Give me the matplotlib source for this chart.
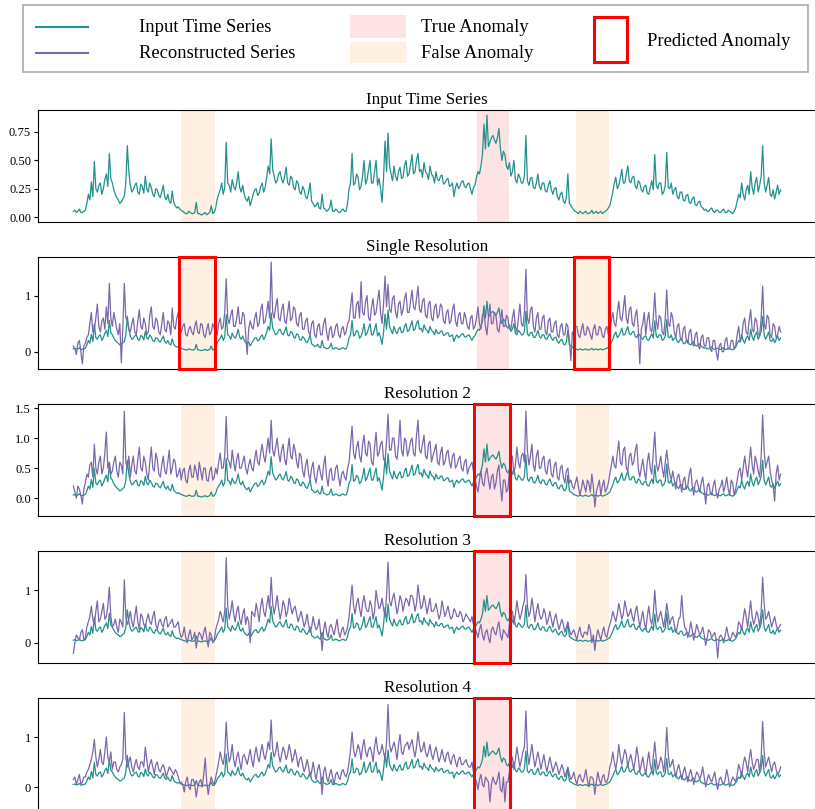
import numpy as np
import matplotlib.pyplot as plt
from matplotlib.patches import Rectangle
from matplotlib.lines import Line2D
import matplotlib.transforms as mtransforms

plt.rcParams['font.family'] = ['Liberation Serif', 'DejaVu Serif']

# ---------------------------------------------------------
# values: one "main" sample every ~3 px,
# plus the sample that sits between each pair of them
# ---------------------------------------------------------
input_main = [
    0.05, 0.04, 0.07, 0.04, 0.06, 0.2, 0.31, 0.49, 0.22, 0.3,
    0.25, 0.38, 0.56, 0.3, 0.2, 0.15, 0.13, 0.18, 0.63, 0.28,
    0.24, 0.3, 0.2, 0.27, 0.36, 0.22, 0.26, 0.18, 0.24, 0.17,
    0.28, 0.15, 0.14, 0.23, 0.1, 0.09, 0.06, 0.04, 0.03, 0.04,
    0.03, 0.13, 0.03, 0.02, 0.04, 0.03, 0.1, 0.04, 0.16, 0.24,
    0.2, 0.66, 0.28, 0.33, 0.24, 0.4, 0.22, 0.2, 0.14, 0.1,
    0.2, 0.25, 0.21, 0.3, 0.26, 0.45, 0.69, 0.36, 0.32, 0.4,
    0.3, 0.44, 0.28, 0.34, 0.24, 0.3, 0.2, 0.24, 0.16, 0.3,
    0.12, 0.1, 0.08, 0.2, 0.07, 0.06, 0.15, 0.05, 0.06, 0.04,
    0.07, 0.05, 0.25, 0.56, 0.3, 0.35, 0.27, 0.5, 0.33, 0.5,
    0.3, 0.5, 0.34, 0.13, 0.67, 0.74, 0.38, 0.45, 0.32, 0.44,
    0.35, 0.5, 0.38, 0.55, 0.4, 0.56, 0.42, 0.48, 0.38, 0.45,
    0.36, 0.4, 0.32, 0.37, 0.3, 0.34, 0.28, 0.18, 0.3, 0.27,
    0.32, 0.26, 0.3, 0.2, 0.28, 0.4, 0.45, 0.82, 0.9, 0.66,
    0.72, 0.65, 0.78, 0.5, 0.55, 0.42, 0.36, 0.5, 0.3, 0.35,
    0.3, 0.72, 0.28, 0.35, 0.25, 0.38, 0.24, 0.3, 0.22, 0.32,
    0.2, 0.26, 0.15, 0.22, 0.12, 0.38, 0.1, 0.06, 0.04, 0.05,
    0.03, 0.05, 0.03, 0.06, 0.04, 0.03, 0.05, 0.04, 0.06, 0.1,
    0.22, 0.35, 0.28, 0.42, 0.3, 0.45, 0.3, 0.36, 0.25, 0.3,
    0.22, 0.28, 0.2, 0.32, 0.55, 0.25, 0.3, 0.22, 0.57, 0.25,
    0.2, 0.26, 0.16, 0.22, 0.14, 0.2, 0.12, 0.18, 0.1, 0.14,
    0.08, 0.07, 0.05, 0.08, 0.04, 0.06, 0.04, 0.07, 0.04, 0.05,
    0.03, 0.08, 0.2, 0.3, 0.15, 0.28, 0.4, 0.2, 0.35, 0.28,
    0.63, 0.22, 0.35, 0.18, 0.16, 0.28, 0.24,
]
input_mid = [
    0.06, 0.05, 0.04, 0.05, 0.12, 0.15, 0.18, 0.25, 0.28, 0.2,
    0.33, 0.27, 0.34, 0.24, 0.17, 0.12, 0.16, 0.3, 0.4, 0.22,
    0.28, 0.22, 0.29, 0.21, 0.25, 0.3, 0.2, 0.25, 0.19, 0.22,
    0.18, 0.2, 0.12, 0.13, 0.08, 0.07, 0.05, 0.03, 0.05, 0.03,
    0.04, 0.03, 0.02, 0.03, 0.02, 0.04, 0.03, 0.08, 0.2, 0.3,
    0.26, 0.3, 0.22, 0.27, 0.3, 0.26, 0.28, 0.16, 0.18, 0.15,
    0.24, 0.19, 0.27, 0.22, 0.35, 0.38, 0.42, 0.3, 0.38, 0.33,
    0.36, 0.3, 0.36, 0.26, 0.32, 0.22, 0.27, 0.18, 0.22, 0.14,
    0.09, 0.13, 0.07, 0.08, 0.05, 0.08, 0.05, 0.07, 0.04, 0.06,
    0.05, 0.12, 0.3, 0.28, 0.38, 0.24, 0.36, 0.29, 0.42, 0.3,
    0.4, 0.28, 0.25, 0.35, 0.4, 0.45, 0.32, 0.36, 0.4, 0.34,
    0.45, 0.36, 0.46, 0.38, 0.5, 0.4, 0.35, 0.4, 0.33, 0.38,
    0.3, 0.33, 0.36, 0.29, 0.33, 0.27, 0.3, 0.26, 0.25, 0.31,
    0.27, 0.29, 0.25, 0.26, 0.35, 0.38, 0.55, 0.6, 0.62, 0.7,
    0.68, 0.7, 0.6, 0.58, 0.45, 0.48, 0.4, 0.33, 0.38, 0.3,
    0.36, 0.32, 0.34, 0.26, 0.3, 0.27, 0.3, 0.23, 0.28, 0.24,
    0.25, 0.18, 0.2, 0.14, 0.17, 0.12, 0.08, 0.05, 0.03, 0.04,
    0.04, 0.03, 0.04, 0.03, 0.05, 0.04, 0.03, 0.05, 0.08, 0.16,
    0.3, 0.25, 0.34, 0.3, 0.38, 0.32, 0.35, 0.27, 0.32, 0.24,
    0.27, 0.21, 0.26, 0.24, 0.28, 0.3, 0.2, 0.28, 0.26, 0.3,
    0.24, 0.18, 0.22, 0.15, 0.19, 0.13, 0.16, 0.11, 0.13, 0.09,
    0.06, 0.05, 0.07, 0.05, 0.06, 0.04, 0.06, 0.04, 0.06, 0.04,
    0.05, 0.14, 0.17, 0.2, 0.24, 0.2, 0.26, 0.3, 0.22, 0.36,
    0.3, 0.28, 0.2, 0.24, 0.22, 0.2,
]

single_main = [
    0.1, -0.05, 0.2, -0.22, 0.15, 0.3, 0.7, 0.4, 0.85, 0.35,
    0.6, 0.8, 1.22, 0.45, 0.55, 0.3, -0.2, 1.22, 0.55, 0.35,
    0.6, 0.3, 0.75, 0.4, 0.5, 0.35, 0.8, 0.4, 0.55, 0.3,
    0.7, 0.35, 0.5, 0.78, 0.4, 0.7, 0.35, 0.5, 0.28, 0.45,
    0.3, 0.55, 0.32, 0.48, 0.25, 0.5, 0.35, 0.42, 0.3, 0.6,
    0.45, 1.3, 0.5, 0.75, 0.45, 0.8, 0.5, 0.65, -0.05, 0.55,
    0.4, 0.7, 0.5, 0.85, 0.55, 0.9, 1.6, 0.6, 0.95, 0.55,
    0.85, 0.5, 0.9, 0.6, 0.75, 0.45, 0.7, 0.4, 0.6, 0.3,
    0.55, 0.25, 0.5, 0.3, 0.6, 0.2, 0.45, 0.3, 0.5, 0.25,
    0.45, 0.35, 0.55, 1.05, 0.6, 0.9, 1.25, 0.65, 1.0, 0.55,
    0.95, 0.7, 1.1, 0.5, 1.35, 1.2, 0.7, 1.0, 0.6, 0.9,
    0.75, 1.05, 0.7, 1.1, 0.75, 1.17, 0.7, 0.95, 0.6, 0.9,
    0.55, 0.85, 0.65, 0.8, 0.5, 0.75, 0.55, 0.85, 0.45, 0.7,
    0.5, 0.6, 0.4, 0.65, 0.45, 0.8, 0.4, 0.7, 0.3, 0.85,
    0.5, 0.65, 0.35, 0.75, 0.45, 0.6, 0.4, 0.75, 0.35, 0.85,
    0.45, 1.47, 0.5, 0.8, 0.35, 0.7, 0.4, 0.65, 0.3, 0.6,
    0.35, 0.55, 0.25, 0.5, 0.3, 0.45, -0.16, 0.3, 0.45, 0.25,
    0.5, 0.3, 0.4, 0.22, 0.48, 0.3, 0.42, 0.25, 0.45, 0.35,
    0.7, 0.45, 0.9, 0.55, 1.0, 0.5, 0.8, 0.45, 0.75, -0.22,
    0.5, 0.3, 0.7, 0.35, 1.05, 0.4, 0.6, 0.3, 1.1, 0.45,
    0.6, 0.25, 0.5, 0.2, 0.45, 0.15, 0.4, 0.1, 0.35, 0.05,
    0.3, 0.1, 0.25, 0.0, 0.2, -0.15, 0.15, 0.0, 0.25, 0.05,
    0.2, 0.1, 0.45, 0.25, 0.6, 0.3, 0.75, 0.35, 0.55, 0.3,
    1.17, 0.4, 0.6, 0.25, 0.45, 0.3, 0.35,
]
single_mid = [
    0.05, 0.15, 0.0, 0.1, 0.25, 0.5, 0.35, 0.6, 0.45, 0.55,
    0.4, 0.5, 0.6, 0.7, 0.4, 0.5, 0.4, 0.6, 0.4, 0.5,
    0.35, 0.55, 0.45, 0.6, 0.3, 0.65, 0.45, 0.6, 0.35, 0.5,
    0.4, 0.55, 0.3, 0.45, 0.6, 0.45, 0.45, 0.3, 0.4, 0.35,
    0.45, 0.35, 0.5, 0.3, 0.4, 0.3, 0.5, 0.28, 0.5, 0.4,
    0.7, 0.6, 0.65, 0.45, 0.6, 0.5, 0.7, 0.3, 0.4, 0.45,
    0.6, 0.45, 0.75, 0.5, 0.7, 0.6, 0.7, 0.8, 0.6, 0.75,
    0.55, 0.7, 0.55, 0.8, 0.5, 0.65, 0.4, 0.55, 0.35, 0.5,
    0.3, 0.45, 0.3, 0.5, 0.35, 0.4, 0.25, 0.45, 0.3, 0.4,
    0.3, 0.5, 0.8, 0.6, 0.85, 0.6, 0.7, 0.9, 0.6, 0.8,
    0.65, 0.9, 0.7, 0.85, 0.8, 0.75, 0.95, 0.7, 0.85, 0.65,
    0.95, 0.7, 0.9, 0.8, 0.95, 0.75, 0.9, 0.65, 0.85, 0.6,
    0.8, 0.6, 0.85, 0.55, 0.7, 0.5, 0.75, 0.55, 0.65, 0.5,
    0.7, 0.45, 0.6, 0.4, 0.6, 0.5, 0.65, 0.45, 0.6, 0.5,
    0.7, 0.4, 0.55, 0.45, 0.65, 0.4, 0.6, 0.45, 0.6, 0.5,
    0.7, 0.6, 0.75, 0.45, 0.6, 0.4, 0.6, 0.35, 0.55, 0.35,
    0.5, 0.3, 0.45, 0.3, 0.5, 0.2, 0.35, 0.45, 0.3, 0.4,
    0.3, 0.45, 0.3, 0.4, 0.3, 0.45, 0.28, 0.4, 0.3, 0.55,
    0.5, 0.7, 0.6, 0.75, 0.6, 0.75, 0.5, 0.65, 0.4, 0.4,
    0.7, 0.55, 0.4, 0.6, 0.55, 0.65, 0.35, 0.6, 0.5, 0.7,
    0.35, 0.45, 0.25, 0.4, 0.2, 0.35, 0.15, 0.3, 0.1, 0.25,
    0.1, 0.25, 0.05, 0.2, 0.0, 0.1, 0.0, 0.2, 0.05, 0.2,
    0.05, 0.3, 0.2, 0.5, 0.35, 0.55, 0.4, 0.6, 0.3, 0.6,
    0.5, 0.65, 0.3, 0.5, 0.25, 0.45,
]

res2_main = [
    0.2, 0.0, 0.15, -0.1, 0.25, 0.35, 0.6, 0.9, 0.4, 0.7,
    0.5, 1.1, 0.6, 0.45, 0.7, 0.35, 0.55, 1.45, 0.5, 0.35,
    0.7, 0.4, 0.85, 0.45, 0.6, 0.3, 0.85, 0.45, 0.65, 0.35,
    0.7, 0.4, 0.8, 0.5, 0.6, 0.4, 0.3, 0.5, 0.25, 0.55,
    0.35, 0.45, 0.6, 0.3, 0.5, 0.28, 0.52, 0.35, 0.4, 0.75,
    0.5, 1.36, 0.6, 0.8, 0.45, 0.75, 0.5, 0.7, 0.4, 0.65,
    0.45, 0.8, 0.55, 0.9, 0.6, 1.0, 1.3, 0.7, 1.0, 0.6,
    0.9, 0.55, 1.0, 0.65, 0.8, 0.5, 0.7, 0.35, 0.65, 0.3,
    0.6, 0.25, 0.55, 0.3, 0.7, 0.2, 0.5, 0.3, 0.55, 0.2,
    0.45, 0.3, 0.6, 1.2, 0.65, 0.95, 0.6, 1.05, 0.7, 0.9,
    0.55, 1.1, 0.75, 0.95, 0.6, 1.4, 0.8, 1.0, 0.65, 1.3,
    0.7, 0.95, 0.8, 1.0, 0.7, 1.3, 0.75, 1.05, 0.65, 0.95,
    0.7, 0.9, 0.55, 0.85, 0.6, 0.8, 0.5, 0.75, 0.55, 0.7,
    0.45, 0.65, 0.5, 0.6, 0.35, 0.1, 0.45, 0.2, 0.5, 0.15,
    0.4, 0.25, 0.55, -0.05, 0.3, 0.15, 0.6, 0.4, 0.85, 0.5,
    0.75, 1.45, 0.55, 0.9, 0.45, 0.8, 0.5, 0.7, 0.4, 0.65,
    0.35, 0.6, 0.3, 0.55, 0.25, 0.5, 0.3, 0.15, 0.35, 0.05,
    0.3, 0.1, 0.25, 0.4, -0.15, 0.2, 0.05, 0.3, 0.15, 0.4,
    0.7, 0.5, 0.95, 0.55, 0.85, 0.45, 0.75, 0.6, 0.9, 0.35,
    0.65, 0.3, 0.75, 0.4, 1.1, 0.45, 0.7, 0.35, 0.8, 0.4,
    0.45, 0.15, 0.4, 0.1, 0.35, 0.2, 0.5, 0.05, 0.3, 0.1,
    0.35, -0.1, 0.25, 0.05, 0.3, 0.0, 0.2, 0.1, 0.35, 0.05,
    0.25, 0.15, 0.45, 0.3, 0.7, 0.35, 0.85, 0.4, 0.6, 0.35,
    1.39, 0.5, 0.7, 0.3, -0.05, 0.55, 0.4,
]
res2_mid = [
    0.1, 0.2, 0.05, 0.15, 0.4, 0.55, 0.35, 0.5, 0.6, 0.4,
    0.75, 0.5, 0.4, 0.6, 0.45, 0.6, 0.4, 0.6, 0.7, 0.55,
    0.45, 0.65, 0.5, 0.7, 0.4, 0.6, 0.5, 0.75, 0.4, 0.55,
    0.45, 0.6, 0.4, 0.65, 0.35, 0.5, 0.45, 0.3, 0.45, 0.35,
    0.55, 0.3, 0.45, 0.5, 0.3, 0.45, 0.3, 0.5, 0.6, 0.5,
    0.7, 0.65, 0.5, 0.6, 0.65, 0.5, 0.6, 0.5, 0.55, 0.5,
    0.65, 0.6, 0.75, 0.7, 0.8, 0.75, 0.8, 0.85, 0.75, 0.8,
    0.65, 0.8, 0.7, 0.9, 0.6, 0.75, 0.45, 0.55, 0.4, 0.5,
    0.35, 0.45, 0.4, 0.55, 0.35, 0.45, 0.3, 0.5, 0.35, 0.4,
    0.35, 0.5, 0.9, 0.75, 0.85, 0.7, 0.9, 0.75, 0.95, 0.6,
    0.85, 0.7, 0.9, 0.65, 0.95, 0.8, 1.0, 0.7, 0.9, 0.8,
    1.0, 0.7, 0.95, 0.75, 1.05, 0.8, 0.9, 0.7, 0.9, 0.6,
    0.8, 0.6, 0.75, 0.55, 0.75, 0.6, 0.7, 0.5, 0.65, 0.5,
    0.6, 0.4, 0.55, 0.45, 0.2, 0.3, 0.25, 0.4, 0.3, 0.35,
    0.15, 0.45, 0.2, 0.3, 0.1, 0.45, 0.7, 0.55, 0.6, 0.7,
    0.6, 0.8, 0.7, 0.55, 0.7, 0.5, 0.65, 0.45, 0.6, 0.4,
    0.55, 0.35, 0.5, 0.35, 0.45, 0.25, 0.2, 0.25, 0.2, 0.15,
    0.2, 0.3, 0.1, 0.2, 0.1, 0.3, 0.2, 0.1, 0.25, 0.55,
    0.55, 0.75, 0.6, 0.8, 0.5, 0.7, 0.55, 0.8, 0.5, 0.5,
    0.45, 0.6, 0.5, 0.75, 0.6, 0.55, 0.5, 0.6, 0.55, 0.3,
    0.3, 0.35, 0.25, 0.3, 0.15, 0.4, 0.2, 0.25, 0.2, 0.25,
    0.15, 0.2, 0.1, 0.2, 0.1, 0.15, 0.3, 0.2, 0.15, 0.3,
    0.05, 0.3, 0.5, 0.5, 0.5, 0.6, 0.55, 0.7, 0.45, 0.7,
    0.8, 0.6, 0.45, 0.2, 0.4, 0.3,
]

res3_main = [
    -0.2, 0.15, 0.05, 0.25, 0.1, 0.4, 0.7, 0.35, 0.8, 0.45,
    0.75, 0.5, 1.06, 0.3, 0.45, 0.2, 0.4, 1.2, 0.35, 0.6,
    0.3, 0.7, 0.25, 0.5, 0.3, 0.55, 0.35, 0.6, 0.25, 0.45,
    0.3, 0.5, 0.35, 0.45, 0.3, 0.4, 0.1, 0.3, 0.0, 0.25,
    0.1, -0.1, 0.2, 0.05, 0.3, -0.08, 0.15, 0.05, 0.35, 0.6,
    0.4, 1.62, 0.45, 0.8, 0.4, 0.7, 0.35, 0.65, 0.5, 0.0,
    0.55, 0.75, 0.4, 0.85, 0.5, 0.9, 1.25, 0.55, 0.9, 0.45,
    0.8, 0.5, 0.85, 0.55, 0.7, 0.4, 0.6, 0.3, 0.55, 0.2,
    0.5, 0.25, 0.45, -0.15, 0.4, 0.1, 0.35, 0.15, 0.45, 0.1,
    0.3, 0.2, 0.5, 1.1, 0.55, 0.85, 0.5, 0.9, 0.6, 0.8,
    0.45, 1.0, 0.65, 0.85, 0.5, 1.54, 0.7, 0.95, 0.55, 0.9,
    0.6, 0.85, 0.7, 0.9, 0.6, 1.1, 0.65, 0.9, 0.55, 0.85,
    0.6, 0.75, 0.45, 0.8, 0.5, 0.7, 0.45, 0.65, 0.5, 0.6,
    0.4, 0.55, 0.45, 0.5, 0.3, 0.1, 0.35, 0.05, 0.25, 0.0,
    0.3, 0.15, 0.4, 0.05, 0.2, 0.1, 0.55, 0.35, 0.8, 0.45,
    0.7, 1.3, 0.5, 0.85, 0.4, 0.75, 0.45, 0.65, 0.35, 0.6,
    0.3, 0.55, 0.25, 0.45, 0.2, 0.4, 0.15, 0.25, 0.05, 0.3,
    0.1, 0.2, 0.35, 0.0, -0.15, 0.25, 0.05, 0.3, 0.1, 0.35,
    0.6, 0.4, 0.75, 0.45, 0.8, 0.5, 0.65, 0.4, 0.7, 0.3,
    0.6, 0.25, 0.7, 0.35, 1.0, 0.4, 0.6, 0.3, 0.75, 0.35,
    0.5, 0.2, 0.45, 0.9, 0.3, 0.1, 0.4, 0.05, 0.35, 0.15,
    0.3, -0.05, 0.25, 0.1, 0.2, -0.29, 0.15, 0.0, 0.3, 0.05,
    0.2, 0.1, 0.4, 0.25, 0.65, 0.3, 0.8, 0.35, 0.6, 0.3,
    1.25, 0.45, 0.6, 0.3, 0.5, 0.25, 0.35,
]
res3_mid = [
    0.0, 0.1, 0.2, 0.05, 0.3, 0.5, 0.45, 0.6, 0.4, 0.6,
    0.45, 0.7, 0.5, 0.35, 0.3, 0.45, 0.3, 0.5, 0.45, 0.4,
    0.5, 0.4, 0.55, 0.35, 0.45, 0.4, 0.5, 0.35, 0.4, 0.35,
    0.45, 0.3, 0.4, 0.3, 0.35, 0.2, 0.15, 0.1, 0.15, 0.05,
    0.2, 0.1, 0.15, 0.2, 0.1, 0.2, 0.0, 0.25, 0.45, 0.5,
    0.6, 0.7, 0.6, 0.55, 0.6, 0.45, 0.55, 0.35, 0.4, 0.6,
    0.5, 0.6, 0.7, 0.6, 0.7, 0.65, 0.75, 0.7, 0.65, 0.6,
    0.7, 0.6, 0.7, 0.65, 0.55, 0.5, 0.45, 0.4, 0.35, 0.3,
    0.35, 0.3, 0.2, 0.25, 0.2, 0.3, 0.25, 0.3, 0.2, 0.25,
    0.15, 0.3, 0.8, 0.7, 0.75, 0.65, 0.75, 0.7, 0.6, 0.7,
    0.6, 0.8, 0.7, 0.65, 0.9, 0.8, 0.85, 0.75, 0.7, 0.8,
    0.75, 0.8, 0.9, 0.8, 0.75, 0.85, 0.7, 0.75, 0.7, 0.6,
    0.65, 0.6, 0.55, 0.65, 0.6, 0.55, 0.5, 0.6, 0.5, 0.55,
    0.45, 0.5, 0.4, 0.35, 0.2, 0.25, 0.15, 0.2, 0.1, 0.25,
    0.2, 0.3, 0.15, 0.25, 0.15, 0.35, 0.6, 0.55, 0.6, 0.55,
    0.8, 0.7, 0.6, 0.65, 0.6, 0.55, 0.5, 0.55, 0.45, 0.45,
    0.45, 0.4, 0.35, 0.35, 0.3, 0.25, 0.2, 0.15, 0.2, 0.15,
    0.2, 0.15, 0.25, 0.15, 0.1, 0.15, 0.2, 0.15, 0.25, 0.45,
    0.5, 0.55, 0.6, 0.55, 0.65, 0.55, 0.5, 0.6, 0.5, 0.45,
    0.4, 0.5, 0.45, 0.55, 0.6, 0.5, 0.45, 0.5, 0.55, 0.45,
    0.35, 0.3, 0.5, 0.5, 0.25, 0.2, 0.25, 0.2, 0.25, 0.2,
    0.15, 0.1, 0.2, 0.15, 0.05, 0.1, 0.1, 0.15, 0.15, 0.1,
    0.15, 0.2, 0.35, 0.45, 0.5, 0.55, 0.5, 0.45, 0.5, 0.6,
    0.75, 0.5, 0.45, 0.4, 0.35, 0.3,
]

res4_main = [
    0.15, 0.05, 0.25, 0.1, 0.2, 0.35, 0.55, 0.95, 0.4, 0.75,
    0.45, 1.0, 0.5, 0.35, 0.5, 0.3, 0.45, 1.49, 0.4, 0.6,
    0.3, 0.55, 0.35, 0.5, 0.8, 0.3, 0.55, 0.25, 0.5, 0.3,
    0.45, 0.2, 0.4, 0.3, 0.35, 0.2, 0.1, -0.1, 0.2, -0.05,
    0.15, -0.2, 0.1, 0.0, 0.58, -0.15, 0.2, 0.05, 0.35, 0.7,
    0.45, 1.3, 0.5, 0.85, 0.4, 0.7, 0.35, 0.65, 0.45, 0.75,
    0.4, 0.8, 0.5, 0.85, 0.55, 0.9, 1.34, 0.6, 0.9, 0.5,
    0.8, 0.55, 0.85, 0.5, 0.75, 0.4, 0.6, 0.3, 0.55, 0.2,
    0.5, 0.15, 0.45, -0.15, 0.4, 0.1, 0.35, 0.05, 0.3, 0.15,
    0.35, 0.2, 0.5, 1.1, 0.6, 0.85, 0.55, 0.95, 0.6, 0.8,
    0.5, 1.0, 0.65, 0.85, 0.55, 1.65, 0.7, 0.9, 0.55, 1.05,
    0.65, 0.85, 0.75, 0.95, 0.6, 1.1, 0.7, 0.9, 0.6, 0.85,
    0.55, 0.8, 0.5, 0.75, 0.5, 0.7, 0.45, 0.65, 0.4, 0.6,
    0.45, 0.55, 0.4, 0.5, 0.2, -0.05, 0.25, 0.0, 0.15, -0.3,
    0.2, 0.05, 0.3, -0.1, -0.3, 0.1, 0.5, 0.35, 0.8, 0.4,
    0.7, 1.52, 0.45, 0.85, 0.4, 0.7, 0.35, 0.65, 0.3, 0.6,
    0.3, 0.5, 0.25, 0.45, 0.2, 0.4, 0.15, 0.3, 0.05, 0.25,
    0.1, 0.35, 0.0, 0.2, -0.15, 0.3, 0.05, 0.25, 0.1, 0.4,
    0.7, 0.35, 0.85, 0.45, 0.75, 0.4, 0.65, 0.35, 0.8, 0.3,
    0.6, 0.25, 0.7, 0.3, 0.9, 0.35, 0.6, 0.3, 1.19, 0.4,
    0.55, 0.2, 0.45, 0.15, 0.4, 0.1, 0.35, 0.05, 0.3, 0.15,
    0.4, 0.0, 0.25, 0.1, 0.3, -0.05, 0.2, 0.05, 0.35, 0.0,
    0.2, 0.1, 0.45, 0.2, 0.6, 0.3, 0.75, 0.35, 0.55, 0.3,
    1.31, 0.4, 0.6, 0.3, 0.5, 0.25, 0.4,
]
res4_mid = [
    0.2, 0.15, 0.05, 0.2, 0.3, 0.45, 0.7, 0.6, 0.55, 0.5,
    0.7, 0.6, 0.7, 0.5, 0.35, 0.4, 0.55, 0.6, 0.5, 0.4,
    0.45, 0.4, 0.5, 0.4, 0.55, 0.45, 0.4, 0.45, 0.35, 0.4,
    0.35, 0.3, 0.35, 0.25, 0.3, 0.1, 0.05, 0.1, 0.0, 0.15,
    0.05, 0.0, 0.15, 0.25, 0.1, 0.05, 0.1, 0.2, 0.5, 0.55,
    0.65, 0.75, 0.6, 0.55, 0.6, 0.5, 0.6, 0.55, 0.6, 0.55,
    0.65, 0.6, 0.7, 0.65, 0.7, 0.75, 0.75, 0.7, 0.65, 0.65,
    0.7, 0.65, 0.7, 0.6, 0.6, 0.55, 0.45, 0.4, 0.4, 0.3,
    0.3, 0.35, 0.25, 0.3, 0.2, 0.25, 0.2, 0.25, 0.2, 0.3,
    0.25, 0.3, 0.75, 0.75, 0.7, 0.75, 0.8, 0.7, 0.75, 0.7,
    0.8, 0.75, 0.7, 0.7, 0.9, 0.85, 0.8, 0.75, 0.85, 0.7,
    0.8, 0.9, 0.85, 0.75, 0.8, 0.85, 0.75, 0.7, 0.7, 0.65,
    0.7, 0.65, 0.6, 0.6, 0.65, 0.55, 0.6, 0.5, 0.55, 0.45,
    0.5, 0.45, 0.4, 0.3, 0.1, 0.15, 0.05, 0.2, 0.1, 0.05,
    0.1, 0.15, -0.05, 0.2, 0.1, 0.3, 0.6, 0.55, 0.6, 0.55,
    0.8, 0.7, 0.65, 0.6, 0.55, 0.55, 0.5, 0.45, 0.45, 0.45,
    0.4, 0.4, 0.35, 0.35, 0.3, 0.25, 0.2, 0.15, 0.2, 0.15,
    0.2, 0.15, 0.2, 0.15, 0.1, 0.15, 0.2, 0.1, 0.2, 0.5,
    0.5, 0.55, 0.6, 0.6, 0.65, 0.55, 0.5, 0.55, 0.6, 0.45,
    0.4, 0.5, 0.45, 0.6, 0.55, 0.45, 0.5, 0.6, 0.65, 0.45,
    0.35, 0.35, 0.3, 0.3, 0.25, 0.25, 0.2, 0.2, 0.25, 0.25,
    0.2, 0.15, 0.15, 0.2, 0.1, 0.15, 0.1, 0.15, 0.2, 0.1,
    0.15, 0.25, 0.35, 0.45, 0.5, 0.55, 0.5, 0.45, 0.55, 0.6,
    0.7, 0.5, 0.45, 0.45, 0.35, 0.3,
]

# anomaly windows, in sample index units (main samples)
true_anomaly = [(134.7, 145.3)]
false_anomaly = [(36.0, 47.3), (167.7, 178.7)]
pred_single = [(35.3, 47.3), (167.0, 178.7)]
pred_multi = [(133.7, 145.7)]

titles = ["Input Time Series", "Single Resolution", "Resolution 2",
          "Resolution 3", "Resolution 4"]
yticks = [[0, 0.25, 0.5, 0.75], [0, 1], [0, 0.5, 1.0, 1.5], [0, 1], [0, 1]]
ytick_labels = [["0.00", "0.25", "0.50", "0.75"], ["0", "1"],
                ["0.0", "0.5", "1.0", "1.5"], ["0", "1"], ["0", "1"]]
ylims = [(-0.044, 0.944), (-0.31, 1.69), (-0.3, 1.57), (-0.385, 1.75), (-0.46, 1.78)]


def weave(main, mid):
    # put each in-between sample after its main sample
    vals = []
    for i, v in enumerate(main):
        vals.append(v)
        if i < len(mid) and i < len(main) - 1:
            vals.append(mid[i])
    t = np.arange(len(vals)) * 0.5
    return t, np.array(vals)


series_in = weave(input_main, input_mid)
recons = [None,
          weave(single_main, single_mid),
          weave(res2_main, res2_mid),
          weave(res3_main, res3_mid),
          weave(res4_main, res4_mid)]
preds = [[], pred_single, pred_multi, pred_multi, pred_multi]

TEAL = "#21918c"
PURPLE = "#7b68ac"
TRUE_C = "#fde3e4"
FALSE_C = "#fef0e2"

W, H = 815, 809
fig = plt.figure(figsize=(W / 100, H / 100), dpi=100)


def fx(px):
    return px / W


def fy(py):
    return 1 - py / H


n_last = len(input_main) - 1
tops = [110, 257, 404, 551, 698]
ax_h = 112
for i in range(5):
    ax = fig.add_axes([fx(38), fy(tops[i] + ax_h), (816 - 38) / W, ax_h / H])
    for a, b in true_anomaly:
        ax.axvspan(a, b, color=TRUE_C, lw=0, zorder=0)
    for a, b in false_anomaly:
        ax.axvspan(a, b, color=FALSE_C, lw=0, zorder=0)
    ax.plot(series_in[0], series_in[1], color=TEAL, lw=0.9, zorder=2)
    if recons[i] is not None:
        ax.plot(recons[i][0], recons[i][1], color=PURPLE, lw=0.9, zorder=3)
    trans = mtransforms.blended_transform_factory(ax.transData, ax.transAxes)
    for a, b in preds[i]:
        ax.add_patch(Rectangle((a, 0), b - a, 1, transform=trans, fill=False,
                               edgecolor="red", lw=2.2, zorder=5, clip_on=False))
    ax.set_xlim(-0.05 * n_last, n_last * 1.05)
    ax.set_ylim(*ylims[i])
    ax.set_xticks([])
    ax.set_yticks(yticks[i])
    ax.set_yticklabels(ytick_labels[i], fontsize=9)
    ax.tick_params(axis="y", length=3, width=0.8, pad=2)
    ax.set_title(titles[i], fontsize=12.3, pad=4)

# legend, drawn by hand (the red box spans both rows)
fig.add_artist(Rectangle((fx(23), fy(72)), fx(808) - fx(23), (72 - 5) / H,
                         transform=fig.transFigure, fill=False,
                         edgecolor="#aaaaaa", lw=1.2))
fig.add_artist(Line2D([fx(36), fx(88)], [fy(27), fy(27)], color=TEAL, lw=1.5,
                      transform=fig.transFigure))
fig.add_artist(Line2D([fx(36), fx(88)], [fy(53), fy(53)], color=PURPLE, lw=1.5,
                      transform=fig.transFigure))
fig.text(fx(139), fy(28), "Input Time Series", fontsize=13.4, va="center")
fig.text(fx(139), fy(54), "Reconstructed Series", fontsize=13.4, va="center")
fig.add_artist(Rectangle((fx(350), fy(38)), (406 - 350) / W, 23 / H,
                         transform=fig.transFigure, color=TRUE_C, lw=0))
fig.add_artist(Rectangle((fx(350), fy(63)), (406 - 350) / W, 21 / H,
                         transform=fig.transFigure, color=FALSE_C, lw=0))
fig.text(fx(421), fy(28), "True Anomaly", fontsize=13.4, va="center")
fig.text(fx(421), fy(53), "False Anomaly", fontsize=13.4, va="center")
fig.add_artist(Rectangle((fx(594), fy(62)), (627 - 594) / W, 45 / H,
                         transform=fig.transFigure, fill=False,
                         edgecolor="red", lw=2.2))
fig.text(fx(647), fy(42), "Predicted Anomaly", fontsize=13.4, va="center")

fig.savefig("out.png", dpi=100)
